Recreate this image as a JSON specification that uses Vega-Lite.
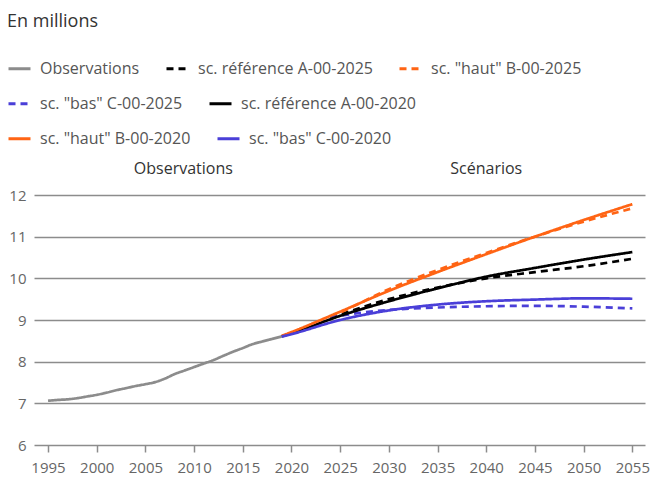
{
  "$schema": "https://vega.github.io/schema/vega-lite/v6.json",
  "width": 611,
  "height": 250,
  "autosize": "none",
  "padding": {"left": 34, "top": 195, "right": 5, "bottom": 32},
  "background": "white",
  "title": {"text": "En millions", "anchor": "start", "frame": "group", "dx": -27, "offset": 25, "fontSize": 18, "font": "Open Sans", "fontWeight": "normal", "color": "#333333"},
  "config": {
    "view": {"stroke": null},
    "font": "Open Sans",
    "legend": {
      "orient": "none",
      "direction": "horizontal",
      "symbolType": "stroke",
      "symbolSize": 484,
      "symbolStrokeWidth": 3,
      "labelFont": "Open Sans",
      "labelFontSize": 16,
      "labelColor": "#555555",
      "labelOffset": 8,
      "labelLimit": 400,
      "columnPadding": 20,
      "padding": 0,
      "title": null
    }
  },
  "datasets": {
    "row1": [
      {"annee": 1995, "valeur": 7.062, "serie": "Observations"},
      {"annee": 1996, "valeur": 7.081, "serie": "Observations"},
      {"annee": 1997, "valeur": 7.096, "serie": "Observations"},
      {"annee": 1998, "valeur": 7.124, "serie": "Observations"},
      {"annee": 1999, "valeur": 7.164, "serie": "Observations"},
      {"annee": 2000, "valeur": 7.204, "serie": "Observations"},
      {"annee": 2001, "valeur": 7.256, "serie": "Observations"},
      {"annee": 2002, "valeur": 7.314, "serie": "Observations"},
      {"annee": 2003, "valeur": 7.364, "serie": "Observations"},
      {"annee": 2004, "valeur": 7.415, "serie": "Observations"},
      {"annee": 2005, "valeur": 7.459, "serie": "Observations"},
      {"annee": 2006, "valeur": 7.509, "serie": "Observations"},
      {"annee": 2007, "valeur": 7.593, "serie": "Observations"},
      {"annee": 2008, "valeur": 7.702, "serie": "Observations"},
      {"annee": 2009, "valeur": 7.786, "serie": "Observations"},
      {"annee": 2010, "valeur": 7.870, "serie": "Observations"},
      {"annee": 2011, "valeur": 7.955, "serie": "Observations"},
      {"annee": 2012, "valeur": 8.039, "serie": "Observations"},
      {"annee": 2013, "valeur": 8.140, "serie": "Observations"},
      {"annee": 2014, "valeur": 8.238, "serie": "Observations"},
      {"annee": 2015, "valeur": 8.327, "serie": "Observations"},
      {"annee": 2016, "valeur": 8.420, "serie": "Observations"},
      {"annee": 2017, "valeur": 8.484, "serie": "Observations"},
      {"annee": 2018, "valeur": 8.545, "serie": "Observations"},
      {"annee": 2019, "valeur": 8.606, "serie": "Observations"},
      {"annee": 2024, "valeur": 9.05, "serie": "sc. référence A-00-2025"},
      {"annee": 2025, "valeur": 9.13, "serie": "sc. référence A-00-2025"},
      {"annee": 2030, "valeur": 9.50, "serie": "sc. référence A-00-2025"},
      {"annee": 2035, "valeur": 9.78, "serie": "sc. référence A-00-2025"},
      {"annee": 2040, "valeur": 10.00, "serie": "sc. référence A-00-2025"},
      {"annee": 2045, "valeur": 10.15, "serie": "sc. référence A-00-2025"},
      {"annee": 2050, "valeur": 10.29, "serie": "sc. référence A-00-2025"},
      {"annee": 2055, "valeur": 10.47, "serie": "sc. référence A-00-2025"},
      {"annee": 2024, "valeur": 9.08, "serie": "sc. \"haut\" B-00-2025"},
      {"annee": 2025, "valeur": 9.18, "serie": "sc. \"haut\" B-00-2025"},
      {"annee": 2030, "valeur": 9.74, "serie": "sc. \"haut\" B-00-2025"},
      {"annee": 2035, "valeur": 10.20, "serie": "sc. \"haut\" B-00-2025"},
      {"annee": 2040, "valeur": 10.61, "serie": "sc. \"haut\" B-00-2025"},
      {"annee": 2045, "valeur": 11.00, "serie": "sc. \"haut\" B-00-2025"},
      {"annee": 2050, "valeur": 11.36, "serie": "sc. \"haut\" B-00-2025"},
      {"annee": 2055, "valeur": 11.68, "serie": "sc. \"haut\" B-00-2025"}
    ],
    "row2": [
      {"annee": 2024, "valeur": 9.05, "serie": "sc. \"bas\" C-00-2025"},
      {"annee": 2025, "valeur": 9.10, "serie": "sc. \"bas\" C-00-2025"},
      {"annee": 2027, "valeur": 9.17, "serie": "sc. \"bas\" C-00-2025"},
      {"annee": 2030, "valeur": 9.24, "serie": "sc. \"bas\" C-00-2025"},
      {"annee": 2035, "valeur": 9.30, "serie": "sc. \"bas\" C-00-2025"},
      {"annee": 2040, "valeur": 9.33, "serie": "sc. \"bas\" C-00-2025"},
      {"annee": 2045, "valeur": 9.34, "serie": "sc. \"bas\" C-00-2025"},
      {"annee": 2050, "valeur": 9.32, "serie": "sc. \"bas\" C-00-2025"},
      {"annee": 2055, "valeur": 9.28, "serie": "sc. \"bas\" C-00-2025"},
      {"annee": 2019, "valeur": 8.61, "serie": "sc. référence A-00-2020"},
      {"annee": 2020, "valeur": 8.68, "serie": "sc. référence A-00-2020"},
      {"annee": 2025, "valeur": 9.10, "serie": "sc. référence A-00-2020"},
      {"annee": 2030, "valeur": 9.45, "serie": "sc. référence A-00-2020"},
      {"annee": 2035, "valeur": 9.76, "serie": "sc. référence A-00-2020"},
      {"annee": 2040, "valeur": 10.04, "serie": "sc. référence A-00-2020"},
      {"annee": 2045, "valeur": 10.25, "serie": "sc. référence A-00-2020"},
      {"annee": 2050, "valeur": 10.45, "serie": "sc. référence A-00-2020"},
      {"annee": 2055, "valeur": 10.63, "serie": "sc. référence A-00-2020"}
    ],
    "row3": [
      {"annee": 2019, "valeur": 8.62, "serie": "sc. \"haut\" B-00-2020"},
      {"annee": 2020, "valeur": 8.71, "serie": "sc. \"haut\" B-00-2020"},
      {"annee": 2025, "valeur": 9.20, "serie": "sc. \"haut\" B-00-2020"},
      {"annee": 2030, "valeur": 9.70, "serie": "sc. \"haut\" B-00-2020"},
      {"annee": 2035, "valeur": 10.15, "serie": "sc. \"haut\" B-00-2020"},
      {"annee": 2040, "valeur": 10.58, "serie": "sc. \"haut\" B-00-2020"},
      {"annee": 2045, "valeur": 11.00, "serie": "sc. \"haut\" B-00-2020"},
      {"annee": 2050, "valeur": 11.40, "serie": "sc. \"haut\" B-00-2020"},
      {"annee": 2055, "valeur": 11.78, "serie": "sc. \"haut\" B-00-2020"},
      {"annee": 2019, "valeur": 8.60, "serie": "sc. \"bas\" C-00-2020"},
      {"annee": 2020, "valeur": 8.66, "serie": "sc. \"bas\" C-00-2020"},
      {"annee": 2025, "valeur": 9.00, "serie": "sc. \"bas\" C-00-2020"},
      {"annee": 2030, "valeur": 9.23, "serie": "sc. \"bas\" C-00-2020"},
      {"annee": 2035, "valeur": 9.37, "serie": "sc. \"bas\" C-00-2020"},
      {"annee": 2040, "valeur": 9.45, "serie": "sc. \"bas\" C-00-2020"},
      {"annee": 2045, "valeur": 9.49, "serie": "sc. \"bas\" C-00-2020"},
      {"annee": 2050, "valeur": 9.52, "serie": "sc. \"bas\" C-00-2020"},
      {"annee": 2055, "valeur": 9.51, "serie": "sc. \"bas\" C-00-2020"}
    ],
    "zones": [
      {"debut": 2025, "fin": 2056.3}
    ],
    "etiquettes": [
      {"annee": 2008.9, "valeur": 12.62, "label": "Observations"},
      {"annee": 2040, "valeur": 12.62, "label": "Scénarios"}
    ]
  },
  "encoding": {
    "x": {
      "field": "annee",
      "type": "quantitative",
      "scale": {"domain": [1993.56, 2056.3], "nice": false, "zero": false},
      "axis": {
        "values": [1995, 2000, 2005, 2010, 2015, 2020, 2025, 2030, 2035, 2040, 2045, 2050, 2055],
        "format": "d",
        "grid": false,
        "domain": false,
        "ticks": true,
        "tickColor": "#8c8c8c",
        "tickSize": 7,
        "tickWidth": 1.5,
        "labelColor": "#666666",
        "labelFontSize": 15,
        "labelFont": "Open Sans",
        "labelPadding": 8,
        "title": null
      }
    },
    "y": {
      "field": "valeur",
      "type": "quantitative",
      "scale": {"domain": [6, 12], "nice": false, "zero": false},
      "axis": {
        "values": [6, 7, 8, 9, 10, 11, 12],
        "grid": true,
        "gridColor": "#8c8c8c",
        "gridWidth": 1.5,
        "domain": false,
        "ticks": false,
        "labelColor": "#666666",
        "labelFontSize": 15,
        "labelFont": "Open Sans",
        "labelPadding": 8,
        "title": null
      }
    }
  },
  "layer": [
    {
      "data": {"name": "zones"},
      "mark": {"type": "rect", "color": "#000000", "opacity": 0.04},
      "encoding": {
        "x": {"field": "debut", "type": "quantitative"},
        "x2": {"field": "fin"},
        "y": {"datum": 12},
        "y2": {"datum": 6}
      }
    },
    {
      "data": {"name": "etiquettes"},
      "mark": {"type": "text", "fontSize": 16, "font": "Open Sans", "color": "#333333", "clip": false},
      "encoding": {
        "text": {"field": "label"}
      }
    },
    {
      "data": {"name": "row1"},
      "mark": {"type": "line", "strokeWidth": 2.7, "interpolate": "monotone"},
      "encoding": {
        "color": {
          "field": "serie", "type": "nominal",
          "scale": {"domain": ["Observations", "sc. référence A-00-2025", "sc. \"haut\" B-00-2025"], "range": ["#8c8c8c", "#000000", "#ff6414"]},
          "legend": {"legendX": -27, "legendY": -139}
        },
        "strokeDash": {
          "field": "serie", "type": "nominal",
          "scale": {"domain": ["Observations", "sc. référence A-00-2025", "sc. \"haut\" B-00-2025"], "range": [[1, 0], [7, 5], [7, 5]]},
          "legend": {"legendX": -27, "legendY": -139}
        }
      }
    },
    {
      "data": {"name": "row2"},
      "mark": {"type": "line", "strokeWidth": 2.7, "interpolate": "monotone"},
      "encoding": {
        "color": {
          "field": "serie", "type": "nominal",
          "scale": {"domain": ["sc. \"bas\" C-00-2025", "sc. référence A-00-2020"], "range": ["#4a3fd8", "#000000"]},
          "legend": {"legendX": -27, "legendY": -104}
        },
        "strokeDash": {
          "field": "serie", "type": "nominal",
          "scale": {"domain": ["sc. \"bas\" C-00-2025", "sc. référence A-00-2020"], "range": [[7, 5], [1, 0]]},
          "legend": {"legendX": -27, "legendY": -104}
        }
      }
    },
    {
      "data": {"name": "row3"},
      "mark": {"type": "line", "strokeWidth": 2.7, "interpolate": "monotone"},
      "encoding": {
        "color": {
          "field": "serie", "type": "nominal",
          "scale": {"domain": ["sc. \"haut\" B-00-2020", "sc. \"bas\" C-00-2020"], "range": ["#ff6414", "#4a3fd8"]},
          "legend": {"legendX": -27, "legendY": -69}
        },
        "strokeDash": {
          "field": "serie", "type": "nominal",
          "scale": {"domain": ["sc. \"haut\" B-00-2020", "sc. \"bas\" C-00-2020"], "range": [[1, 0], [1, 0]]},
          "legend": {"legendX": -27, "legendY": -69}
        }
      }
    }
  ],
  "resolve": {"scale": {"color": "independent", "strokeDash": "independent"}}
}
